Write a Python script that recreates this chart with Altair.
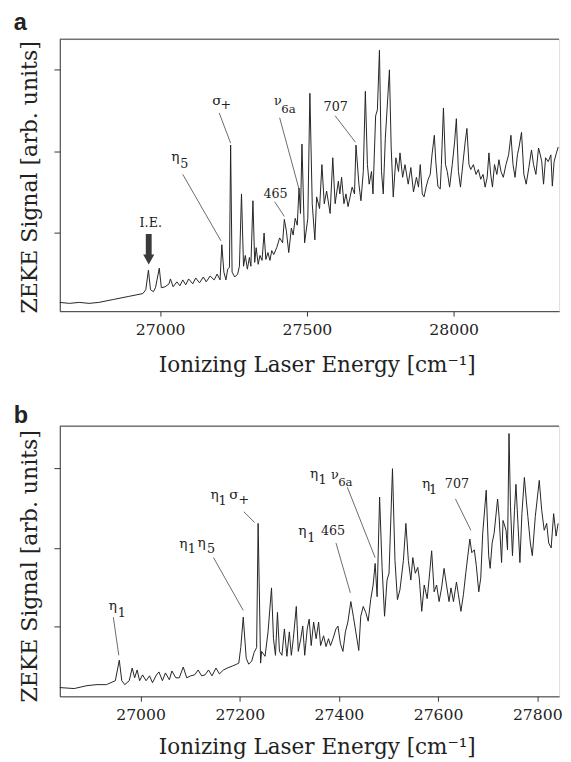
import altair as alt
import pandas as pd

# ---------------- panel a: spectrum ----------------
A_X = [26658, 26691, 26724, 26758, 26791, 26841, 26891, 26924, 26941, 26951, 26960, 26967, 26977, 26984,
       26997, 27004, 27017, 27030, 27035, 27044, 27057, 27067, 27077, 27087, 27097, 27111, 27121, 27134,
       27147, 27157, 27170, 27184, 27194, 27204, 27210, 27217, 27224, 27230, 27236, 27240, 27245, 27254,
       27264, 27270, 27277, 27284, 27290, 27297, 27304, 27309, 27316, 27322, 27327, 27334, 27340, 27347,
       27354, 27360, 27367, 27374, 27380, 27387, 27397, 27407, 27417, 27423, 27430, 27438, 27447, 27453,
       27460, 27467, 27473, 27478, 27483, 27492, 27503, 27510, 27518, 27527, 27533, 27543, 27551, 27559,
       27567, 27579, 27588, 27596, 27607, 27612, 27618, 27626, 27633, 27640, 27647, 27654, 27662, 27667,
       27677, 27684, 27692, 27699, 27706, 27712, 27720, 27725, 27734, 27740, 27747, 27754, 27760, 27767,
       27781, 27787, 27794, 27803, 27812, 27817, 27826, 27834, 27845, 27854, 27863, 27873, 27880, 27886,
       27893, 27899, 27906, 27913, 27920, 27926, 27934, 27939, 27946, 27954, 27958, 27965, 27972, 27978,
       27986, 27995, 28003, 28009, 28016, 28023, 28032, 28039, 28045, 28052, 28058, 28067, 28076, 28084,
       28092, 28100, 28107, 28114, 28120, 28126, 28132, 28139, 28147, 28154, 28161, 28169, 28178, 28187,
       28195, 28202, 28209, 28217, 28222, 28231, 28239, 28247, 28256, 28265, 28272, 28280, 28289, 28295,
       28300, 28306, 28313, 28322, 28331, 28336, 28342, 28350, 28356]
A_S = [9, 8, 9, 8, 9, 12, 15, 17, 18, 22, 42, 22, 20, 24,
       44, 24, 25, 28, 33, 25, 30, 26, 32, 27, 33, 28, 34, 29,
       35, 30, 36, 32, 38, 32, 68, 40, 32, 43, 45, 170, 40, 35,
       38, 46, 120, 46, 57, 43, 55, 46, 113, 50, 65, 48, 57, 52,
       80, 53, 60, 52, 62, 58, 65, 75, 70, 94, 82, 60, 85, 78,
       95, 88, 126, 100, 171, 70, 95, 223, 110, 73, 117, 105, 150, 110,
       123, 100, 157, 110, 133, 120, 137, 110, 120, 107, 117, 127, 120, 170,
       130, 113, 143, 225, 150, 130, 143, 120, 200, 206, 267, 143, 120, 177,
       247, 167, 117, 157, 143, 162, 137, 150, 130, 147, 122, 137, 127, 150,
       120, 117, 127, 135, 140, 160, 180, 153, 128, 125, 150, 208, 150, 143,
       127, 150, 173, 197, 143, 127, 153, 173, 187, 150, 145, 150, 140, 145,
       135, 140, 127, 137, 162, 140, 127, 150, 140, 155, 143, 137, 150, 160,
       180, 150, 137, 160, 167, 183, 140, 130, 147, 165, 150, 140, 167, 160,
       153, 130, 157, 153, 160, 128, 153, 162, 168]

# annotation glyph pieces (main symbol, subscript, ...)
A_LAB_TEXT = ["I.E.", "η", "5", "σ", "+", "465", "ν", "6a", "707"]
A_LAB_X = [26968, 27052, 27082, 27193, 27224, 27393, 27401, 27437, 27598]
A_LAB_Y = [90, 158, 151, 215, 211, 120, 215, 207, 209]
A_LAB_SIZE = [13, 14, 13, 14, 13, 13, 13, 12, 13]

A_LN_X1 = [27077, 27201, 27390, 27407, 27596]
A_LN_Y1 = [140, 203, 112, 198, 200]
A_LN_X2 = [27207, 27240, 27423, 27473, 27665]
A_LN_Y2 = [72, 172, 97, 125, 173]

A_ARROW_X = [26961]
A_ARROW_TOP = [79]
A_ARROW_BOT = [57]
A_ARROW_HEAD = [53]

# ---------------- panel b: spectrum ----------------
B_X = [26837, 26866, 26892, 26912, 26931, 26949, 26957, 26962, 26968, 26977, 26983, 26988, 26993, 26998,
       27004, 27011, 27018, 27024, 27032, 27037, 27044, 27050, 27058, 27063, 27071, 27078, 27086, 27093,
       27101, 27109, 27116, 27123, 27130, 27137, 27144, 27152, 27159, 27167, 27175, 27185, 27194, 27198,
       27202, 27207, 27213, 27218, 27224, 27229, 27234, 27237, 27242, 27244, 27251, 27257, 27264, 27268,
       27272, 27276, 27280, 27285, 27290, 27295, 27300, 27304, 27308, 27314, 27318, 27323, 27327, 27331,
       27336, 27340, 27344, 27349, 27354, 27359, 27363, 27369, 27374, 27379, 27383, 27388, 27394, 27398,
       27403, 27408, 27413, 27418, 27424, 27429, 27434, 27440, 27444, 27449, 27454, 27459, 27464, 27469,
       27473, 27477, 27482, 27487, 27492, 27497, 27501, 27508, 27513, 27518, 27523, 27530, 27535, 27540,
       27545, 27549, 27554, 27559, 27562, 27567, 27572, 27578, 27582, 27587, 27592, 27597, 27602, 27607,
       27612, 27616, 27622, 27626, 27631, 27637, 27641, 27646, 27651, 27656, 27664, 27668, 27673, 27677,
       27682, 27686, 27690, 27697, 27702, 27705, 27709, 27713, 27720, 27723, 27728, 27731, 27737, 27740,
       27743, 27746, 27750, 27754, 27757, 27761, 27765, 27769, 27774, 27778, 27781, 27786, 27790, 27796,
       27804, 27809, 27814, 27819, 27823, 27828, 27833, 27838, 27842]
B_S = [9, 8, 11, 12, 12, 16, 37, 16, 12, 16, 29, 19, 27, 16,
       22, 16, 21, 14, 22, 25, 16, 24, 17, 26, 19, 19, 30, 19,
       21, 22, 27, 21, 22, 27, 21, 29, 23, 27, 29, 31, 33, 34,
       50, 81, 39, 33, 36, 45, 50, 177, 34, 46, 41, 66, 111, 59,
       42, 86, 46, 42, 69, 41, 66, 42, 59, 92, 46, 59, 72, 42,
       69, 79, 52, 76, 59, 76, 52, 62, 51, 59, 52, 59, 69, 72,
       54, 46, 66, 76, 97, 82, 66, 47, 82, 92, 86, 77, 99, 114,
       136, 102, 204, 132, 82, 119, 126, 233, 139, 99, 109, 139, 177, 139,
       119, 142, 126, 132, 121, 87, 114, 100, 121, 149, 107, 114, 97, 111,
       131, 117, 97, 111, 97, 117, 104, 87, 104, 127, 161, 147, 150, 134,
       107, 121, 167, 211, 144, 131, 157, 167, 202, 184, 137, 180, 170, 150,
       269, 194, 144, 190, 217, 177, 137, 187, 224, 200, 184, 157, 144, 184,
       221, 190, 170, 177, 157, 152, 187, 164, 177]

B_LAB_TEXT = ["η", "1", "η", "1", "η", "5", "η", "1", "σ", "+", "η", "1", "465",
              "η", "1", "ν", "6a", "η", "1", "707"]
B_LAB_X = [26944, 26962, 27086, 27103, 27123, 27142, 27149, 27165, 27188, 27208, 27326, 27344, 27388,
           27350, 27367, 27392, 27413, 27576, 27590, 27638]
B_LAB_Y = [92, 85, 156, 151, 157, 151, 206, 200, 206, 201, 169, 162, 169,
           227, 221, 226, 219, 217, 211, 217]
B_LAB_SIZE = [14, 13, 14, 13, 14, 13, 14, 13, 14, 13, 14, 13, 13,
              14, 13, 13, 12, 14, 13, 13]

B_LN_X1 = [26945, 27147, 27208, 27394, 27417, 27635]
B_LN_Y1 = [81, 142, 189, 157, 214, 202]
B_LN_X2 = [26956, 27207, 27230, 27423, 27473, 27666]
B_LN_Y2 = [42, 88, 178, 106, 142, 170]

SERIF = "DejaVu Serif"
INK = "#222222"


def panel(letter, xs, ss, xdom, ydom, xticks, yticks, h, xtitle_y, ytitle_y, title_offset,
          lab_t, lab_x, lab_y, lab_s, l_x1, l_y1, l_x2, l_y2, arrow=None):
    xscale = alt.Scale(domain=xdom, nice=False, zero=False)
    yscale = alt.Scale(domain=ydom, nice=False, zero=False)
    spec = pd.DataFrame({"x": xs, "s": ss})
    line = alt.Chart(spec).mark_line(color=INK, strokeWidth=1, interpolate="linear").encode(
        x=alt.X("x:Q", scale=xscale,
                axis=alt.Axis(values=xticks, format="d", grid=False, labelFlush=False,
                              labelFont=SERIF, labelFontSize=16, labelColor=INK, labelPadding=6,
                              tickSize=5, tickColor="#333", domainColor="#333",
                              title="Ionizing Laser Energy [cm⁻¹]", titleFont=SERIF,
                              titleFontSize=22, titleFontWeight="normal", titleColor=INK,
                              titleBaseline="alphabetic", titleX=263, titleY=xtitle_y)),
        y=alt.Y("s:Q", scale=yscale,
                axis=alt.Axis(values=yticks, labels=False, grid=False, tickSize=6,
                              tickColor="#333", domainColor="#333",
                              title="ZEKE Signal [arb. units]", titleFont=SERIF,
                              titleFontSize=22.5, titleFontWeight="normal", titleColor=INK,
                              titleBaseline="alphabetic", titleX=-24, titleY=ytitle_y)),
    )
    frame_top = alt.Chart(pd.DataFrame({"top": [ydom[1]]})).mark_rule(
        color="#333", strokeWidth=1).encode(y=alt.Y("top:Q", scale=yscale, axis=None))
    ldf = pd.DataFrame({"x1": l_x1, "y1": l_y1, "x2": l_x2, "y2": l_y2})
    leaders = alt.Chart(ldf).mark_rule(color="#444", strokeWidth=0.8).encode(
        x=alt.X("x1:Q", scale=xscale, axis=None),
        x2="x2:Q",
        y=alt.Y("y1:Q", scale=yscale, axis=None),
        y2="y2:Q",
    )
    tdf = pd.DataFrame({"t": lab_t, "x": lab_x, "y": lab_y, "fs": lab_s})
    texts = alt.Chart(tdf).mark_text(font=SERIF, color=INK,
                                     align="center", baseline="middle").encode(
        x=alt.X("x:Q", scale=xscale, axis=None),
        y=alt.Y("y:Q", scale=yscale, axis=None),
        text="t:N",
        size=alt.Size("fs:Q", scale=None, legend=None),
    )
    layers = [line, frame_top, leaders, texts]
    if arrow is not None:
        adf = pd.DataFrame({"x": arrow[0], "top": arrow[1], "bot": arrow[2], "head": arrow[3]})
        shaft = alt.Chart(adf).mark_rule(color="#3a3a3a", strokeWidth=6).encode(
            x=alt.X("x:Q", scale=xscale, axis=None),
            y=alt.Y("top:Q", scale=yscale, axis=None),
            y2="bot:Q",
        )
        head = alt.Chart(adf).mark_point(shape="M -1 -0.9 L 1 -0.9 L 0 0.9 Z", filled=True,
                                         size=130, color="#3a3a3a", opacity=1).encode(
            x=alt.X("x:Q", scale=xscale, axis=None),
            y=alt.Y("head:Q", scale=yscale, axis=None),
        )
        layers += [shaft, head]
    return alt.layer(*layers).resolve_axis(x="independent", y="independent").properties(
        width=511, height=h,
        title=alt.TitleParams(text=letter, anchor="start", frame="group", dx=-47,
                              offset=title_offset,
                              font="Liberation Sans", fontSize=24, fontWeight="bold",
                              color=INK, baseline="top"),
    )


pa = panel("a", A_X, A_S, [26658, 28359], [0, 278.4], [27000, 27500, 28000], [80, 163, 247], 278.4,
           62, 141, 4,
           A_LAB_TEXT, A_LAB_X, A_LAB_Y, A_LAB_SIZE, A_LN_X1, A_LN_Y1, A_LN_X2, A_LN_Y2,
           arrow=(A_ARROW_X, A_ARROW_TOP, A_ARROW_BOT, A_ARROW_HEAD))
pb = panel("b", B_X, B_S, [26837, 27844], [0, 276.6], [27000, 27200, 27400, 27600, 27800],
           [72, 152, 234], 276.6, 58, 143, -2,
           B_LAB_TEXT, B_LAB_X, B_LAB_Y, B_LAB_SIZE, B_LN_X1, B_LN_Y1, B_LN_X2, B_LN_Y2)

chart = alt.vconcat(pa, pb, spacing=28).properties(
    padding={"left": 5, "top": -6, "right": 0, "bottom": 0}
).configure_view(stroke=None).configure(background="white")

chart.save("out.html", embed_options={"renderer": "svg", "actions": False})
